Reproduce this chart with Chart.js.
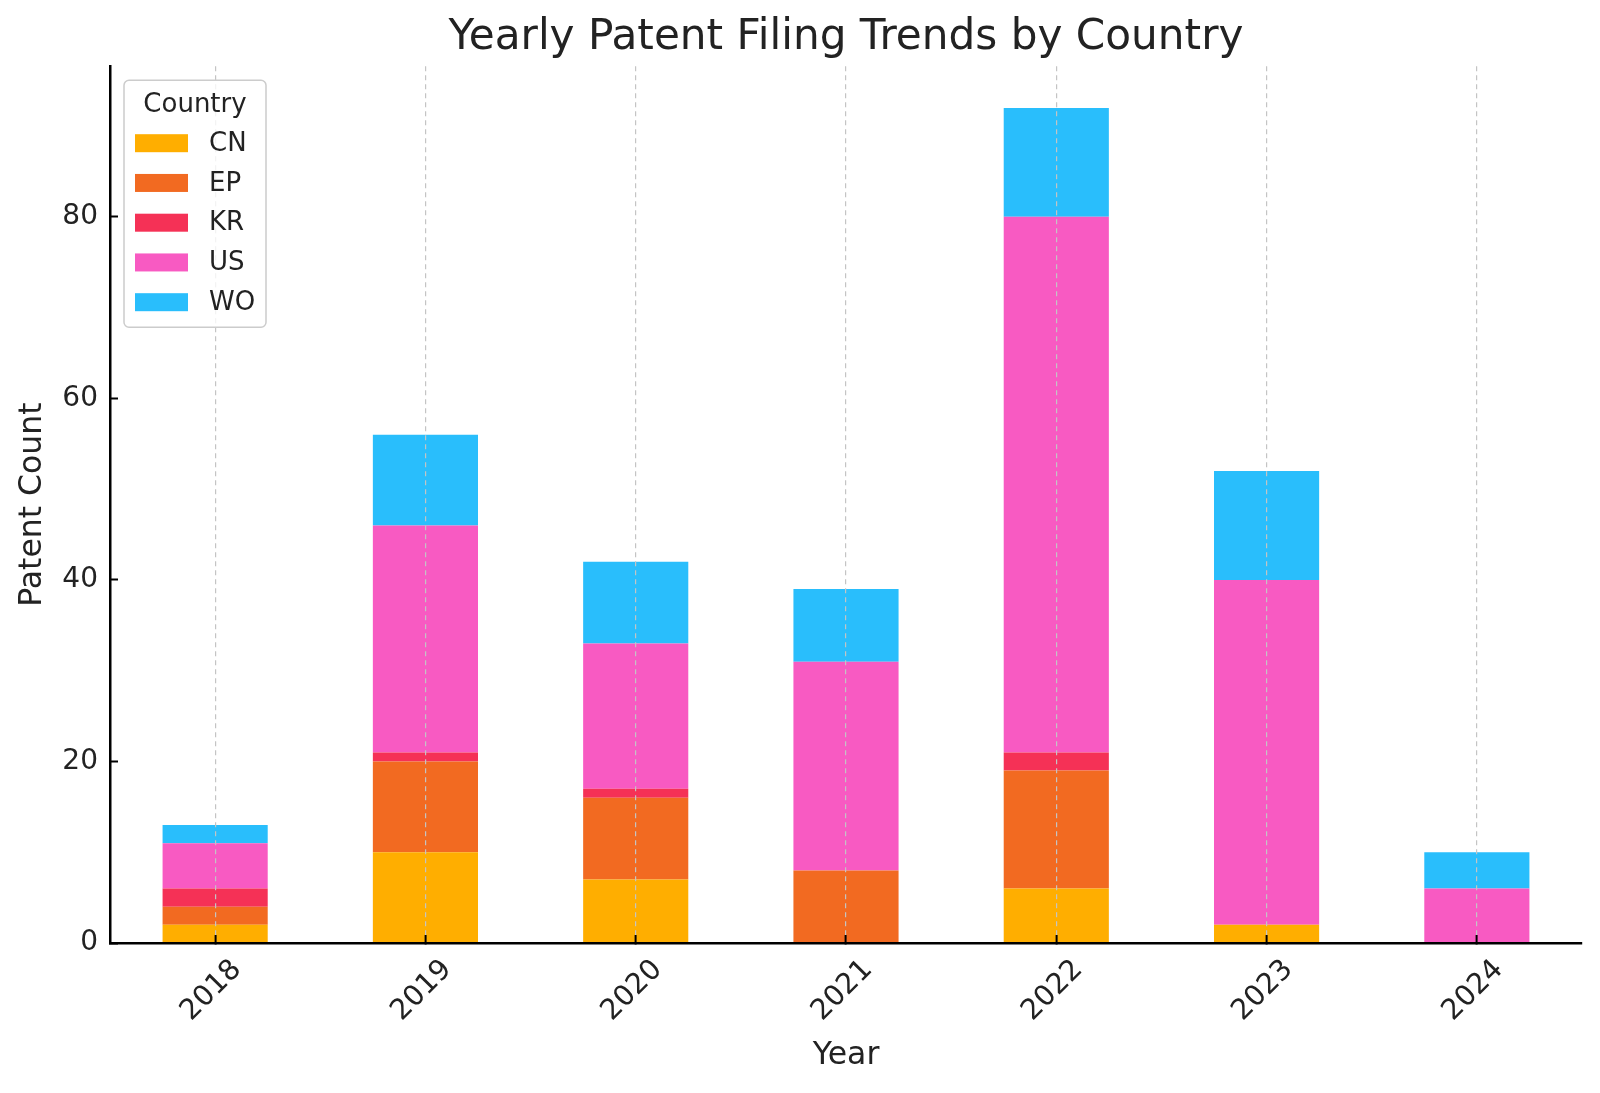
<!DOCTYPE html>
<html>
<head>
<meta charset="utf-8">
<title>Yearly Patent Filing Trends by Country</title>
<script src="https://cdn.jsdelivr.net/npm/chart.js@4.4.1/dist/chart.umd.min.js"></script>
<style>
  html, body { margin: 0; padding: 0; background: #fff; }
</style>
</head>
<body>
<canvas id="myChart" width="1600" height="1093"></canvas>
<script>
// data
var years = ['2018', '2019', '2020', '2021', '2022', '2023', '2024'];
var cn = [2, 10, 7, 0, 6, 2, 0];
var ep = [2, 10, 9, 8, 13, 0, 0];
var kr = [2, 1, 1, 0, 2, 0, 0];
var us = [5, 25, 16, 23, 59, 38, 6];
var wo = [2, 10, 9, 8, 12, 12, 4];
var yTicks = [0, 20, 40, 60, 80];
var yMax = 96.6;

var textColor = '#222222';
Chart.defaults.font.family = '"DejaVu Sans", sans-serif';

// legend in a framed box, top left inside the plot
var boxLegend = {
    id: 'boxLegend',
    afterDraw: function(chart) {
        var ctx = chart.ctx;
        var a = chart.chartArea;
        var x = a.left + 14, y = a.top + 14, w = 142, h = 247;
        ctx.save();
        ctx.beginPath();
        ctx.roundRect(x, y, w, h, 5);
        ctx.fillStyle = 'rgba(255,255,255,0.8)';
        ctx.fill();
        ctx.strokeStyle = '#cccccc';
        ctx.lineWidth = 1.5;
        ctx.stroke();
        ctx.font = '26px "DejaVu Sans"';
        ctx.textBaseline = 'middle';
        ctx.textAlign = 'center';
        ctx.fillStyle = textColor;
        ctx.fillText('Country', x + w / 2, y + 25);
        ctx.textAlign = 'left';
        chart.data.datasets.forEach(function(ds, i) {
            var cy = y + 63 + i * 39.75;
            ctx.fillStyle = ds.backgroundColor;
            ctx.fillRect(x + 11, cy - 9, 53, 18);
            ctx.fillStyle = textColor;
            ctx.fillText(ds.label, x + 85, cy + 1);
        });
        ctx.restore();
    }
};

var ctx = document.getElementById('myChart').getContext('2d');
var chart = new Chart(ctx, {
    type: 'bar',
    data: {
        labels: years,
        datasets: [
            { label: 'CN', data: cn, backgroundColor: '#ffae00' },
            { label: 'EP', data: ep, backgroundColor: '#f26a21' },
            { label: 'KR', data: kr, backgroundColor: '#f53156' },
            { label: 'US', data: us, backgroundColor: '#f85ac2' },
            { label: 'WO', data: wo, backgroundColor: '#29befc' }
        ]
    },
    options: {
        responsive: false,
        animation: false,
        datasets: { bar: { barPercentage: 0.5, categoryPercentage: 1, borderWidth: 0 } },
        layout: { padding: { left: 0, right: 18, top: 0, bottom: 0 } },
        plugins: {
            legend: { display: false },
            tooltip: { enabled: false },
            title: {
                display: true,
                fullSize: false,
                text: 'Yearly Patent Filing Trends by Country',
                color: textColor,
                font: { size: 42.2, weight: 'normal', lineHeight: 1 },
                padding: { top: 17, bottom: 7 }
            }
        },
        scales: {
            x: {
                stacked: true,
                grid: { offset: false, z: 1, color: '#c4c4c4', lineWidth: 1.2, tickLength: -8, tickColor: '#000', tickWidth: 2 },
                border: { color: '#000', width: 2.5, dash: [5, 4], z: 1 },
                ticks: { z: 1, color: textColor, font: { size: 28.5 }, minRotation: 45, maxRotation: 45, autoSkip: false, padding: 18, labelOffset: 22 },
                title: { display: true, text: 'Year', color: textColor, font: { size: 31.5 }, padding: { top: 0, bottom: 18 } },
                afterFit: function(s) { s.height = 150; }
            },
            y: {
                stacked: true,
                min: 0,
                max: yMax,
                afterBuildTicks: function(s) { s.ticks = yTicks.map(function(v) { return { value: v }; }); },
                grid: { drawOnChartArea: false, z: 1, tickLength: -8, tickColor: '#000', tickWidth: 2, color: '#000' },
                border: { color: '#000', width: 2.5, z: 1 },
                ticks: { color: textColor, font: { size: 28 }, padding: 20 },
                title: { display: true, text: 'Patent Count', color: textColor, font: { size: 31.5 }, padding: { top: 14, bottom: 0 } },
                afterFit: function(s) { s.width = 110; }
            }
        }
    },
    plugins: [boxLegend]
});
</script>
</body>
</html>
